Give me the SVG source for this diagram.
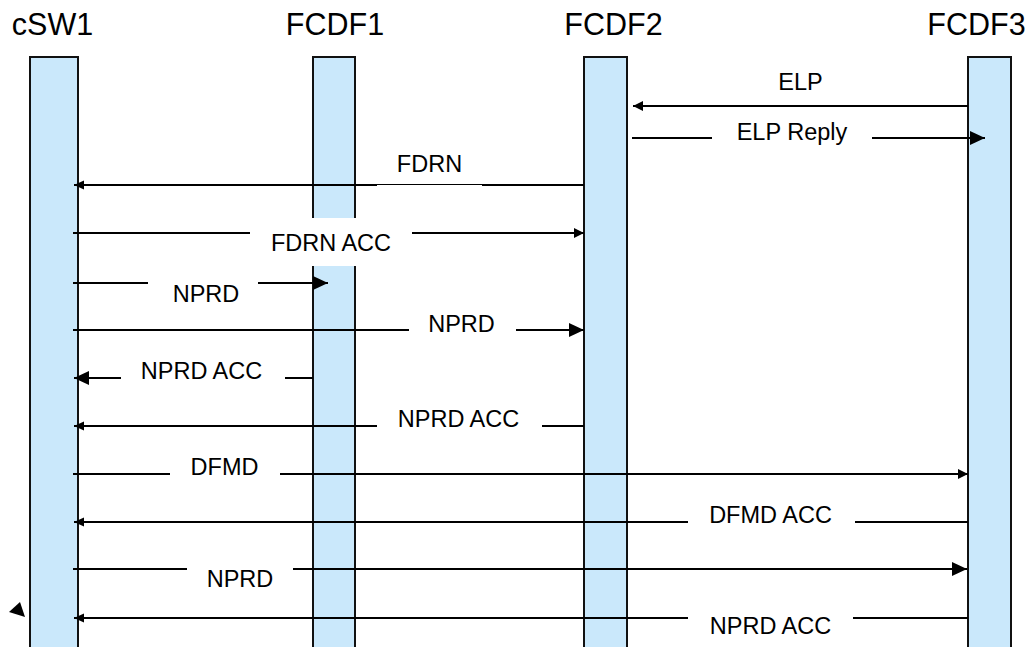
<svg xmlns="http://www.w3.org/2000/svg" width="1034" height="647" viewBox="0 0 1034 647">
<style>
.hdr{font-family:"Liberation Sans",Arial,sans-serif;font-size:30.5px;fill:#000;text-anchor:middle}
.lbl{font-family:"Liberation Sans",Arial,sans-serif;font-size:23.5px;fill:#000;text-anchor:middle}
.bar{fill:#cae8fb;stroke:#111;stroke-width:2}
.msg{stroke:#000;stroke-width:2;fill:none}
.bg{fill:#fff;stroke:none}
</style>
<defs>
<marker id="big" markerUnits="userSpaceOnUse" markerWidth="16" markerHeight="16" refX="15" refY="7" orient="auto"><path d="M0,0 L15,7 L0,14 z" fill="#000"/></marker>
<marker id="mid" markerUnits="userSpaceOnUse" markerWidth="12" markerHeight="12" refX="10" refY="5" orient="auto"><path d="M0,0 L10,5 L0,10 z" fill="#000"/></marker>
<marker id="small" markerUnits="userSpaceOnUse" markerWidth="12" markerHeight="12" refX="10" refY="4.5" orient="auto"><path d="M0,0 L10,4.5 L0,9 z" fill="#000"/></marker>
</defs>
<rect width="1034" height="647" fill="#fff"/>
<g id="cSW1"><text class="hdr" x="52.5" y="35">cSW1</text><rect class="bar" x="30" y="57" width="48" height="610"/></g>
<g id="FCDF1"><text class="hdr" x="335" y="35">FCDF1</text><rect class="bar" x="313" y="57" width="42" height="610"/></g>
<g id="FCDF2"><text class="hdr" x="613.5" y="35">FCDF2</text><rect class="bar" x="584" y="57" width="43" height="610"/></g>
<g id="FCDF3"><text class="hdr" x="976.5" y="35">FCDF3</text><rect class="bar" x="968" y="57" width="43" height="610"/></g>
<g id="connectors">
<line class="msg" x1="968" y1="106" x2="633" y2="106" marker-end="url(#mid)"/>
<text class="lbl" x="800.5" y="90">ELP</text>
<line class="msg" x1="632" y1="138" x2="985" y2="138" marker-end="url(#big)"/>
<rect class="bg" x="712" y="133" width="160" height="10"/>
<text class="lbl" x="792" y="140">ELP Reply</text>
<line class="msg" x1="584" y1="185" x2="74" y2="185" marker-end="url(#small)"/>
<rect class="bg" x="377" y="185" width="105" height="3"/>
<text class="lbl" x="429.5" y="172">FDRN</text>
<line class="msg" x1="73" y1="233" x2="584" y2="233" marker-end="url(#mid)"/>
<rect class="bg" x="250" y="218" width="162" height="48"/>
<text class="lbl" x="331" y="251">FDRN ACC</text>
<line class="msg" x1="73" y1="283" x2="328" y2="283" marker-end="url(#big)"/>
<rect class="bg" x="148" y="278" width="110" height="10"/>
<text class="lbl" x="206" y="302">NPRD</text>
<line class="msg" x1="73" y1="330" x2="584" y2="330" marker-end="url(#big)"/>
<rect class="bg" x="409" y="325" width="107" height="10"/>
<text class="lbl" x="461.5" y="332">NPRD</text>
<line class="msg" x1="313" y1="378" x2="74" y2="378" marker-end="url(#big)"/>
<rect class="bg" x="121" y="373" width="164" height="10"/>
<text class="lbl" x="201.5" y="379">NPRD ACC</text>
<line class="msg" x1="584" y1="426" x2="74" y2="426" marker-end="url(#small)"/>
<rect class="bg" x="377" y="421" width="165" height="10"/>
<text class="lbl" x="458.5" y="427">NPRD ACC</text>
<line class="msg" x1="73" y1="474" x2="968" y2="474" marker-end="url(#mid)"/>
<rect class="bg" x="170" y="469" width="110" height="10"/>
<text class="lbl" x="224.5" y="475">DFMD</text>
<line class="msg" x1="968" y1="522" x2="74" y2="522" marker-end="url(#small)"/>
<rect class="bg" x="688" y="517" width="167" height="10"/>
<text class="lbl" x="770.5" y="523">DFMD ACC</text>
<line class="msg" x1="73" y1="569" x2="967" y2="569" marker-end="url(#big)"/>
<rect class="bg" x="187" y="564" width="106" height="10"/>
<text class="lbl" x="240" y="587">NPRD</text>
<line class="msg" x1="968" y1="618" x2="74" y2="618" marker-end="url(#small)"/>
<rect class="bg" x="688" y="613" width="165" height="10"/>
<text class="lbl" x="770.5" y="634">NPRD ACC</text>
</g>
<polygon points="20,602 9,612 25,617" fill="#000"/>
</svg>
